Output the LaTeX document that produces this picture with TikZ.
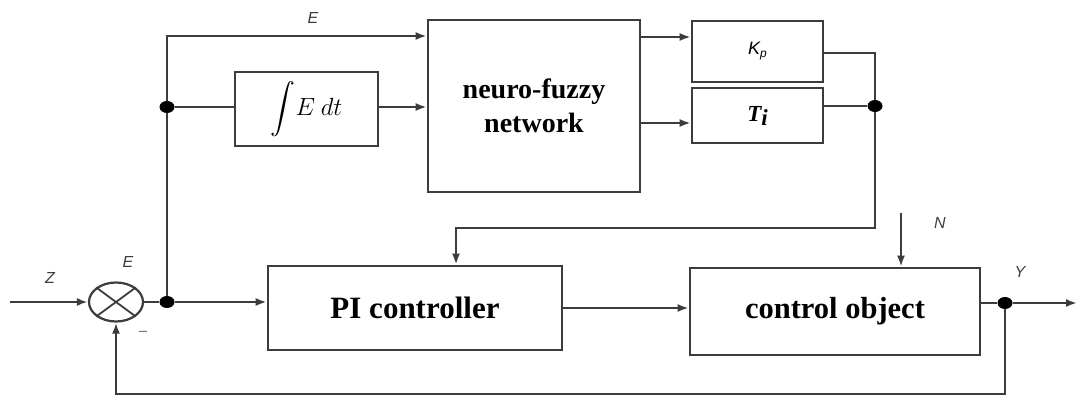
\documentclass[tikz,border=0pt]{standalone}
\usepackage{amsmath}
\usepackage{fontspec}
\setmainfont{Liberation Serif}
\newfontfamily\lblfont{Liberation Sans}
\usetikzlibrary{arrows.meta,shapes.geometric,calc}
\definecolor{ln}{HTML}{3C3C3C}
\tikzset{
  wire/.style={draw=ln,line width=2.6pt},
  arr/.style={wire,-{Latex[length=11pt,width=8pt]}},
  blk/.style={draw=ln,line width=2.6pt,rectangle,inner sep=0pt,align=center,font=\fontsize{28}{34}\selectfont\bfseries},
  jdot/.style={ellipse,fill=black,inner sep=0pt,minimum width=15pt,minimum height=12pt},
  lbl/.style={font=\lblfont\itshape\fontsize{16}{16}\selectfont,text=ln}
}
\begin{document}
\begin{tikzpicture}[x=1pt,y=-1pt]
\useasboundingbox (0,0) rectangle (1077,398);
% blocks
\node[blk,minimum width=143pt,minimum height=74pt] (integ) at (306.5,109) {\fontsize{23}{23}\selectfont\mdseries$\displaystyle\int\! E\ dt$};
\node[blk,minimum width=212pt,minimum height=172pt] (nf) at (534,106) {neuro-fuzzy\\network};
\node[blk,minimum width=131pt,minimum height=61pt] (kp) at (757.5,51.5) {\lblfont\itshape\mdseries\fontsize{18}{18}\selectfont K\raisebox{-3pt}{\fontsize{12}{12}\selectfont p}};
\node[blk,minimum width=131pt,minimum height=55pt] (ti) at (757.5,115.5) {\itshape\fontsize{23}{23}\selectfont T\raisebox{-4pt}{i}};
\node[blk,minimum width=294pt,minimum height=84pt] (pi) at (415,308) {\fontsize{31}{31}\selectfont PI controller};
\node[blk,minimum width=290pt,minimum height=87pt] (co) at (835,311.5) {\fontsize{30.5}{30.5}\selectfont control object};
% summing junction
\node[ellipse,draw=ln,line width=2.2pt,minimum width=54pt,minimum height=39pt,inner sep=0pt] (sum) at (116,302) {};
\draw[ln,line width=1.8pt] (sum.north east) -- (sum.south west) (sum.north west) -- (sum.south east);
% junction dots
\node[jdot] (d1) at (167,302) {};
\node[jdot] (d2) at (167,107) {};
\node[jdot] (d3) at (875,106) {};
\node[jdot] (d4) at (1005,303) {};
% coordinates
\coordinate (zin) at (10,302);
\coordinate (eT) at (167,36);
\coordinate (a1) at (0,37);
\coordinate (a2) at (0,123);
\coordinate (kpc) at (875,53);
\coordinate (bend) at (875,228);
\coordinate (piin) at (456,0);
\coordinate (nin) at (901,213);
\coordinate (yout) at (1077,303);
\coordinate (fb) at (1005,394);
% connectors
\draw[arr] (zin) -- (sum.west);
\draw[wire] (sum.east) -- (d1);
\draw[arr] (d1) -- (d1 -| pi.west);
\draw[wire] (d1) -- (d2);
\draw[arr] (d2) -- (eT) -- (eT -| nf.west);
\draw[wire] (d2) -- (integ.west |- d2);
\draw[arr] (integ.east |- d2) -- (nf.west |- d2);
\draw[arr] (nf.east |- a1) -- (kp.west |- a1);
\draw[arr] (nf.east |- a2) -- (kp.west |- a2);
\draw[wire] (kp.east |- kpc) -- (kpc) -- (d3);
\draw[wire] (ti.east |- d3) -- (d3);
\draw[arr] (d3) -- (bend) -| (piin |- pi.north);
\draw[arr] (pi.east) -- (co.west |- pi.east);
\draw[arr] (nin) -- (nin |- co.north);
\draw[wire] (co.east |- d4) -- (d4);
\draw[arr] (d4) -- (yout);
\draw[arr] (d4) -- (fb) -| (sum.south);
% labels
\node[lbl] (lz) at (50,278) {Z};
\node[lbl] (le) at (128,262) {E};
\node[lbl] (lm) at (143,333) {\normalfont\fontsize{16}{16}\selectfont --};
\node[lbl] (le2) at (313,18) {E};
\node[lbl] (ln) at (940,223) {N};
\node[lbl] (ly) at (1020,272) {Y};
\end{tikzpicture}
\end{document}
